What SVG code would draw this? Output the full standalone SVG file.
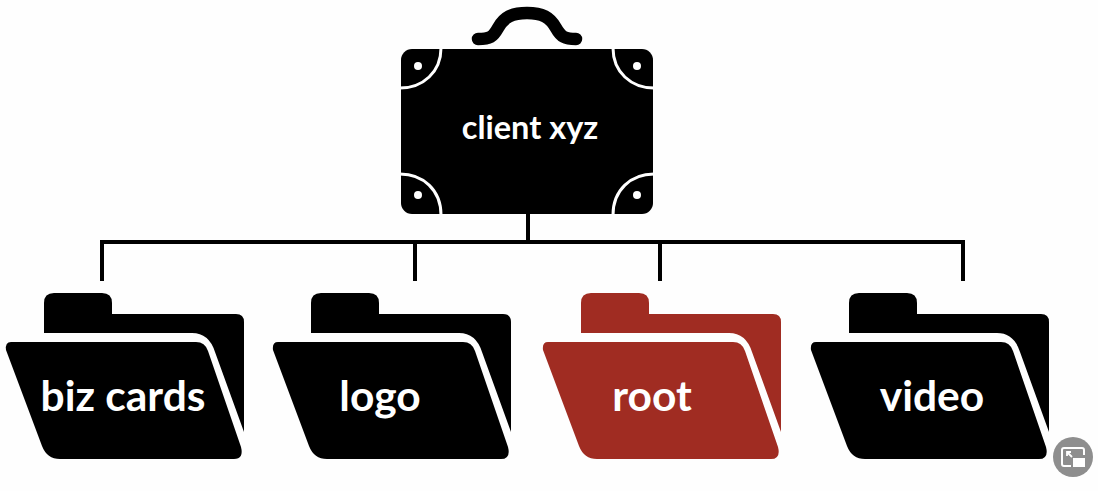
<svg xmlns="http://www.w3.org/2000/svg" width="1098" height="491" viewBox="0 0 1098 491">
<style>
.conn{fill:none;stroke:#000;stroke-width:4}
.lbl{font-family:"Lato","Noto Sans",sans-serif;font-weight:700;fill:#fff;text-anchor:middle}
.arc{fill:none;stroke:#fff;stroke-width:3}
.riv{fill:#fff}
</style>
<defs>
<g id="folder">
<path d="M44,333V303Q44,293 54,293H102Q112,293 112,303V314H236Q244,314 244,322V432L215,352Q209,333 192,333Z"/>
<path d="M11,342H196Q205,342 208,351L241,447Q244,459 234,459H60Q47,459 42,446L6,350Q5,342 11,342Z"/>
</g>
</defs>
<rect width="1098" height="491" fill="#fefefe"/>
<g id="connectors">
<path class="conn" d="M528,213V242M102,281V242H963V281M415,242V281M660,242V281"/>
</g>
<g id="client">
<path d="M478,39C490,39 493,37 498,28C504,17 512,13 527,13C542,13 550,17 556,28C561,37 565,39 576,39" fill="none" stroke="#000" stroke-width="12.5" stroke-linecap="round"/>
<rect x="401" y="49" width="252" height="165" rx="11"/>
<path class="arc" d="M441,48C441,72 423,88 400,88M613,48C613,72 631,88 654,88M400,174C423,174 441,190 441,215M654,174C631,174 613,190 613,215"/>
<circle class="riv" cx="418" cy="66" r="4"/><circle class="riv" cx="637" cy="66" r="4"/><circle class="riv" cx="418" cy="195" r="4"/><circle class="riv" cx="637" cy="195" r="4"/>
<text class="lbl" x="530" y="139" font-size="32.5">client xyz</text>
</g>
<g id="biz-cards">
<use href="#folder"/>
<text class="lbl" x="123" y="411" font-size="42.5">biz cards</text>
</g>
<g id="logo">
<use href="#folder" x="267"/>
<text class="lbl" x="380" y="411" font-size="42.5">logo</text>
</g>
<g id="root" fill="#a02c22">
<use href="#folder" x="537"/>
<text class="lbl" x="652" y="411" font-size="42.5">root</text>
</g>
<g id="video">
<use href="#folder" x="805"/>
<text class="lbl" x="932" y="411" font-size="42.5">video</text>
</g>
<g id="badge">
<circle cx="1073" cy="457" r="20" fill="#8e8e8e"/>
<path d="M1072,448H1064Q1062,448 1062,450V464Q1062,466 1064,466H1071M1084,455V450Q1084,448 1082,448H1071" fill="none" stroke="#fff" stroke-width="2"/>
<path d="M1067,452L1072,457M1067,456V452H1071" fill="none" stroke="#fff" stroke-width="1.8"/>
<rect x="1073" y="458" width="12" height="9" fill="#fff"/>
</g>
</svg>
